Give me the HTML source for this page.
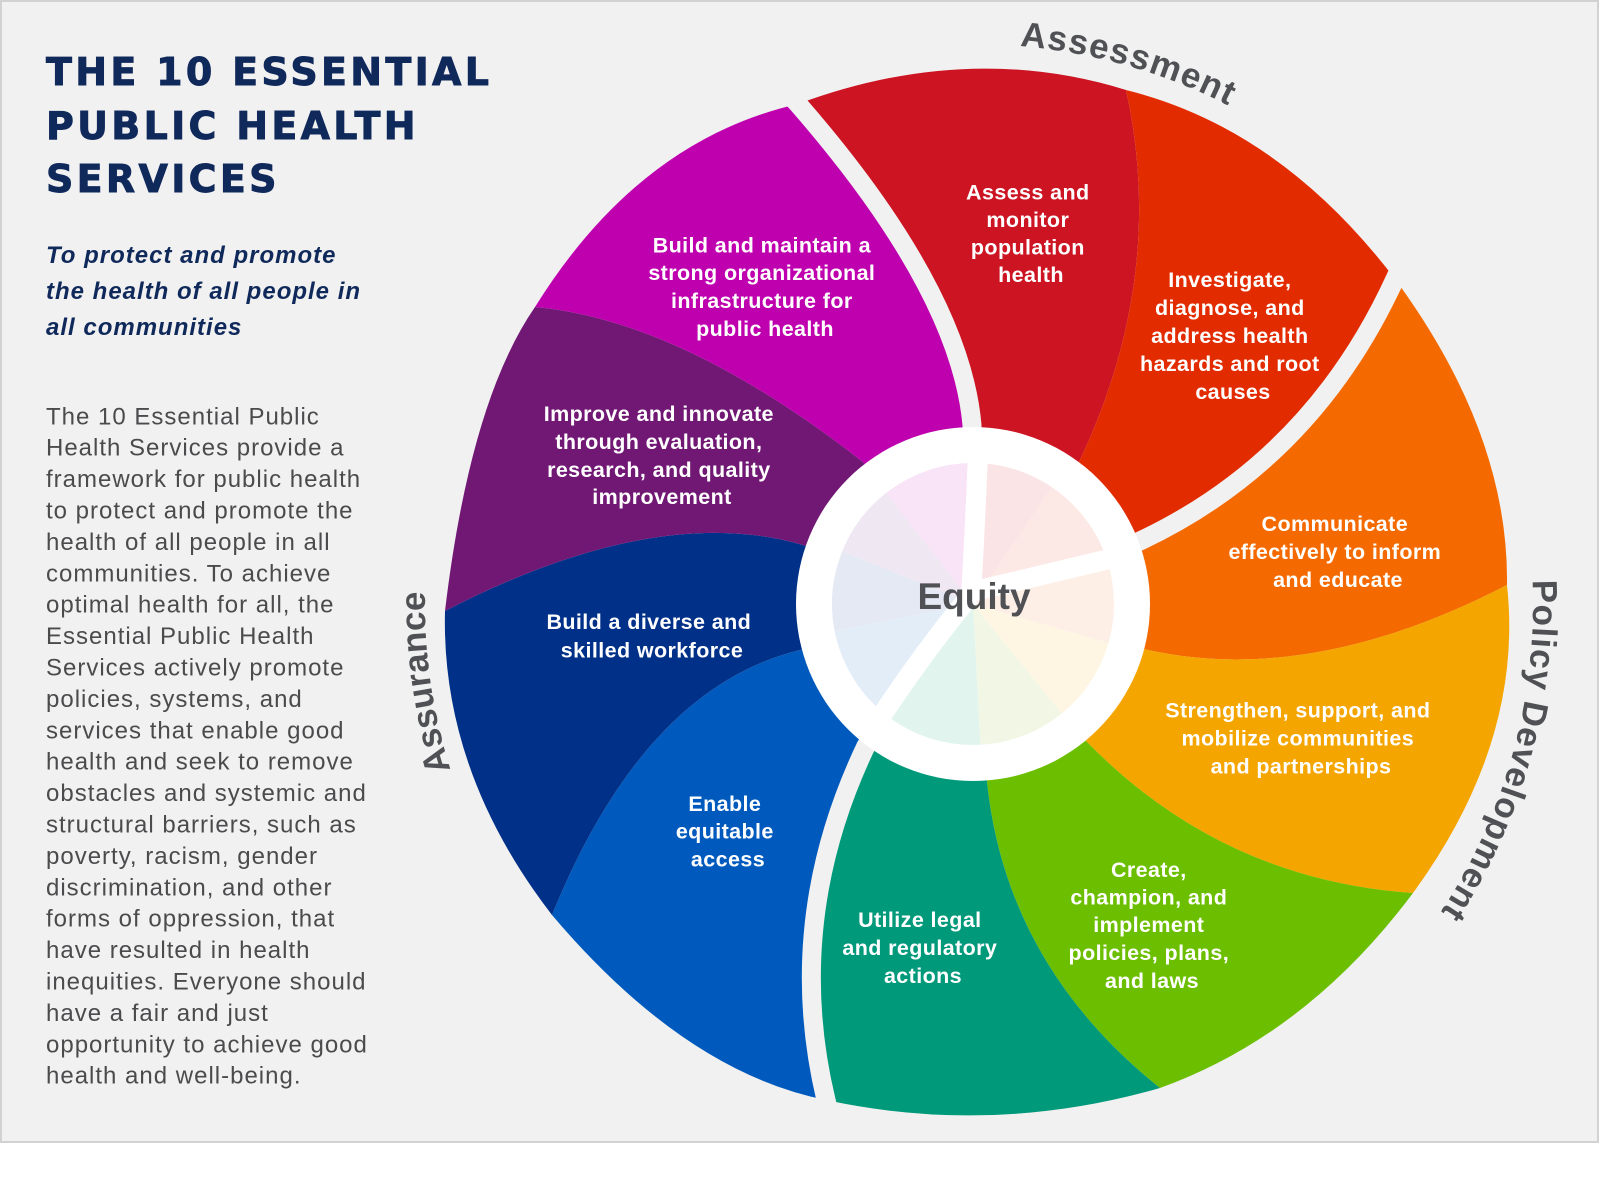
<!DOCTYPE html>
<html>
<head>
<meta charset="utf-8">
<style>
html,body{margin:0;padding:0;background:#ffffff;}
body{width:1600px;height:1180px;overflow:hidden;}
svg{display:block;}
.seg{font-family:"Liberation Sans",Arial,sans-serif;font-weight:bold;font-size:21.5px;fill:#ffffff;letter-spacing:0.4px;}
.sec{font-family:"Liberation Sans",Arial,sans-serif;font-weight:bold;font-size:35px;fill:#505155;}
.title{font-family:"DejaVu Sans","Liberation Sans",sans-serif;font-weight:bold;font-size:38px;fill:#10295b;stroke:#10295b;stroke-width:0.9px;letter-spacing:3.3px;}
.sub{font-family:"Liberation Sans",Arial,sans-serif;font-weight:bold;font-style:italic;font-size:24px;fill:#10295b;letter-spacing:1px;}
.body{font-family:"Liberation Sans",Arial,sans-serif;font-size:24px;fill:#4b4b4d;letter-spacing:1px;}
</style>
</head>
<body>
<svg width="1600" height="1180" viewBox="0 0 1600 1180" xmlns="http://www.w3.org/2000/svg">
<defs>
<path id="pAssess" d="M1019.9,46 A560,560 0 0 1 1402,244"/>
<path id="pPolicy" d="M1532.5,580.1 A560,560 0 0 1 1253,1089"/>
<path id="pAssur" d="M450.6,769.7 A548,548 0 0 1 458,416.6"/>
</defs>

<!-- panel -->
<rect x="0" y="0" width="1600" height="1180" fill="#ffffff"/>
<rect x="1" y="1" width="1597" height="1141" fill="#f1f1f1" stroke="#d2d2d2" stroke-width="2"/>

<!-- wheel segments -->
<path fill="#cc1422" d="M973,604 L972,425 Q960,290 798,104 Q968,41 1126,90 Q1167,275 1080,460 Z"/>
<path fill="#e32b00" d="M973,604 L1080,460 Q1167,275 1126,90 Q1280,128 1395,279 Q1312,460 1140,541 Z"/>
<path fill="#f46a00" d="M973,604 L1140,541 Q1312,460 1395,279 Q1509,434 1507,585 Q1312,686 1148,650 Z"/>
<path fill="#f5a500" d="M973,604 L1148,650 Q1312,686 1507,585 Q1524,741 1413,893 Q1222,880 1087,742 Z"/>
<path fill="#6cbf00" d="M973,604 L1087,742 Q1222,880 1413,893 Q1307,1035 1160,1088 Q1006,965 987,782 Z"/>
<path fill="#00997a" d="M973,604 L987,782 Q1006,965 1160,1088 Q993,1136 826,1100 Q783,920 866,746 Z"/>
<path fill="#005abd" d="M973,604 L866,746 Q783,920 826,1100 Q685,1072 552,915 Q644,688 800,650 Z"/>
<path fill="#013088" d="M973,604 L800,650 Q644,688 552,915 Q441,771 445,611 Q656,502 803,545 Z"/>
<path fill="#711875" d="M973,604 L803,545 Q656,502 445,611 Q470,401 535,307 Q681,320 863,462 Z"/>
<path fill="#bf00ae" d="M973,604 L863,462 Q681,320 535,307 Q639,140 798,104 Q960,290 972,425 Z"/>

<!-- gaps -->
<g fill="none" stroke="#f1f1f1" stroke-width="19" stroke-linecap="butt">
<path d="M973,560 L972,425 Q960,290 798,104 L788,93"/>
<path d="M1100,560 L1140,541 Q1312,460 1395,279 L1401,266"/>
<path d="M900,700 L866,746 Q783,920 826,1100 L829.5,1114.6"/>
</g>

<!-- white ring -->
<circle cx="973" cy="604" r="177" fill="#ffffff"/>

<!-- pastel inner pie -->
<path fill="#fae4e6" d="M973,604 L973,463 A141,141 0 0 1 1051.8,487.1 Z"/>
<path fill="#fce8e4" d="M973,604 L1051.8,487.1 A141,141 0 0 1 1107.1,560.4 Z"/>
<path fill="#fdefe5" d="M973,604 L1107.1,560.4 A141,141 0 0 1 1108.5,642.9 Z"/>
<path fill="#fef5e3" d="M973,604 L1108.5,642.9 A141,141 0 0 1 1061.7,713.6 Z"/>
<path fill="#f2f7e5" d="M973,604 L1061.7,713.6 A141,141 0 0 1 980.4,744.8 Z"/>
<path fill="#e1f4ee" d="M973,604 L980.4,744.8 A141,141 0 0 1 882.4,712 Z"/>
<path fill="#e3edf8" d="M973,604 L882.4,712 A141,141 0 0 1 834.6,630.9 Z"/>
<path fill="#e5e9f3" d="M973,604 L834.6,630.9 A141,141 0 0 1 842.3,551.2 Z"/>
<path fill="#efe7f2" d="M973,604 L842.3,551.2 A141,141 0 0 1 886.2,492.9 Z"/>
<path fill="#f9e3f7" d="M973,604 L886.2,492.9 A141,141 0 0 1 973,463 Z"/>
<g fill="none" stroke="#ffffff" stroke-width="20">
<path d="M971,595 Q975,530 978,452"/>
<path d="M971,592 L1122,556"/>
<path d="M970,596 Q925,650 876,724"/>
</g>

<text x="974" y="609" text-anchor="middle" style="font-family:'Liberation Sans',Arial,sans-serif;font-weight:bold;font-size:37px;fill:#505155;">Equity</text>

<!-- segment labels -->
<text class="seg" text-anchor="middle">
<tspan x="1031" y="199.5">Assess and</tspan>
<tspan x="1031" y="227">monitor</tspan>
<tspan x="1031" y="254.5">population</tspan>
<tspan x="1031" y="282">health</tspan>
</text>
<text class="seg" text-anchor="middle">
<tspan x="1233" y="287">Investigate,</tspan>
<tspan x="1233" y="315">diagnose, and</tspan>
<tspan x="1233" y="343">address health</tspan>
<tspan x="1233" y="371">hazards and root</tspan>
<tspan x="1233" y="399">causes</tspan>
</text>
<text class="seg" text-anchor="middle">
<tspan x="1338" y="531">Communicate</tspan>
<tspan x="1338" y="559">effectively to inform</tspan>
<tspan x="1338" y="587">and educate</tspan>
</text>
<text class="seg" text-anchor="middle">
<tspan x="1301" y="717.5">Strengthen, support, and</tspan>
<tspan x="1301" y="745.5">mobilize communities</tspan>
<tspan x="1301" y="773.5">and partnerships</tspan>
</text>
<text class="seg" text-anchor="middle">
<tspan x="1152" y="877">Create,</tspan>
<tspan x="1152" y="904.5">champion, and</tspan>
<tspan x="1152" y="932">implement</tspan>
<tspan x="1152" y="960">policies, plans,</tspan>
<tspan x="1152" y="988">and laws</tspan>
</text>
<text class="seg" text-anchor="middle">
<tspan x="923" y="927">Utilize legal</tspan>
<tspan x="923" y="955">and regulatory</tspan>
<tspan x="923" y="983">actions</tspan>
</text>
<text class="seg" text-anchor="middle">
<tspan x="728" y="811">Enable</tspan>
<tspan x="728" y="838.5">equitable</tspan>
<tspan x="728" y="866.5">access</tspan>
</text>
<text class="seg" text-anchor="middle">
<tspan x="652" y="629">Build a diverse and</tspan>
<tspan x="652" y="657.5">skilled workforce</tspan>
</text>
<text class="seg" text-anchor="middle">
<tspan x="662" y="421">Improve and innovate</tspan>
<tspan x="662" y="449">through evaluation,</tspan>
<tspan x="662" y="477">research, and quality</tspan>
<tspan x="662" y="504">improvement</tspan>
</text>
<text class="seg" text-anchor="middle">
<tspan x="765" y="252.5">Build and maintain a</tspan>
<tspan x="765" y="280">strong organizational</tspan>
<tspan x="765" y="308">infrastructure for</tspan>
<tspan x="765" y="336">public health</tspan>
</text>

<!-- section labels -->
<text class="sec" style="letter-spacing:1.3px;"><textPath href="#pAssess">Assessment</textPath></text>
<text class="sec" style="letter-spacing:1px;"><textPath href="#pPolicy">Policy Development</textPath></text>
<text class="sec" style="letter-spacing:0.2px;"><textPath href="#pAssur">Assurance</textPath></text>

<!-- left column -->
<text class="title">
<tspan x="46" y="85">THE 10 ESSENTIAL</tspan>
<tspan x="46" y="139">PUBLIC HEALTH</tspan>
<tspan x="46" y="192">SERVICES</tspan>
</text>
<text class="sub">
<tspan x="46" y="263">To protect and promote</tspan>
<tspan x="46" y="299">the health of all people in</tspan>
<tspan x="46" y="335">all communities</tspan>
</text>
<text class="body">
<tspan x="46" y="424.3">The 10 Essential Public</tspan>
<tspan x="46" y="455.7">Health Services provide a</tspan>
<tspan x="46" y="487.1">framework for public health</tspan>
<tspan x="46" y="518.5">to protect and promote the</tspan>
<tspan x="46" y="549.9">health of all people in all</tspan>
<tspan x="46" y="581.3">communities. To achieve</tspan>
<tspan x="46" y="612.7">optimal health for all, the</tspan>
<tspan x="46" y="644.1">Essential Public Health</tspan>
<tspan x="46" y="675.5">Services actively promote</tspan>
<tspan x="46" y="706.9">policies, systems, and</tspan>
<tspan x="46" y="738.3">services that enable good</tspan>
<tspan x="46" y="769.7">health and seek to remove</tspan>
<tspan x="46" y="801.1">obstacles and systemic and</tspan>
<tspan x="46" y="832.5">structural barriers, such as</tspan>
<tspan x="46" y="863.9">poverty, racism, gender</tspan>
<tspan x="46" y="895.3">discrimination, and other</tspan>
<tspan x="46" y="926.7">forms of oppression, that</tspan>
<tspan x="46" y="958.1">have resulted in health</tspan>
<tspan x="46" y="989.5">inequities. Everyone should</tspan>
<tspan x="46" y="1020.9">have a fair and just</tspan>
<tspan x="46" y="1052.3">opportunity to achieve good</tspan>
<tspan x="46" y="1083.7">health and well-being.</tspan>
</text>
</svg>
</body>
</html>
